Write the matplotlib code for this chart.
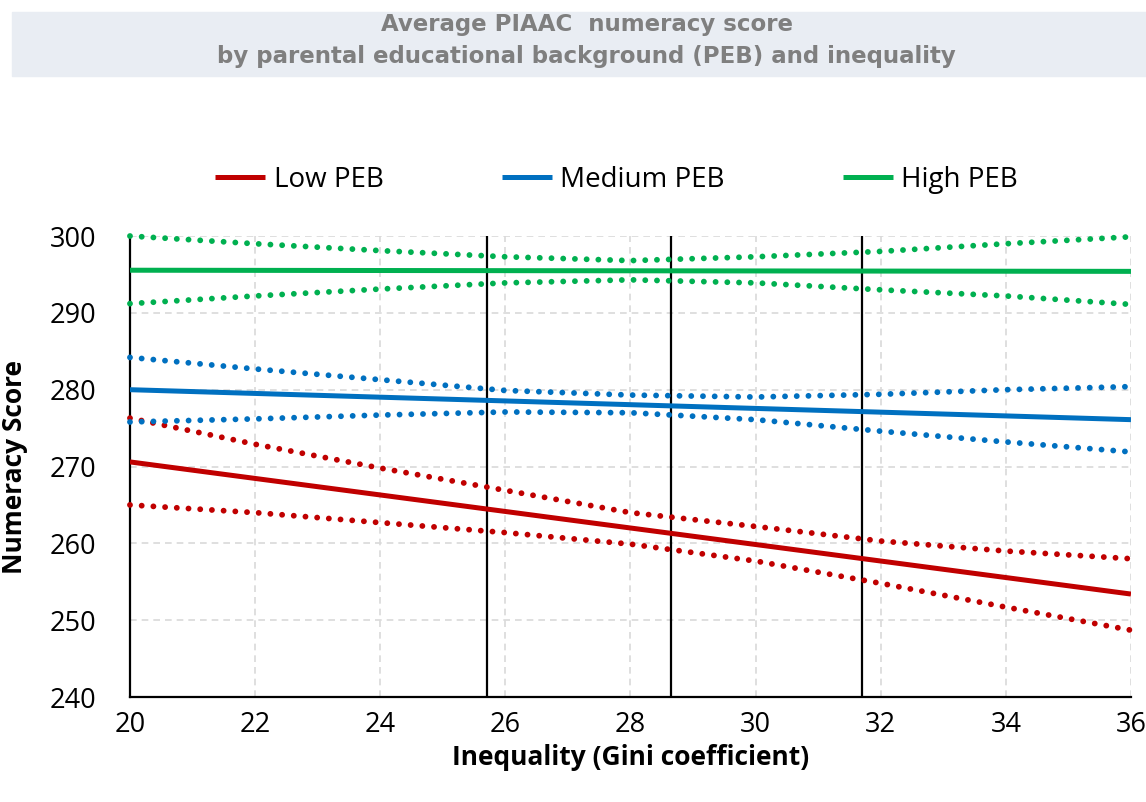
import matplotlib
matplotlib.use("Agg")
import matplotlib.pyplot as plt
from matplotlib.patches import Rectangle

# valori
gini = [20, 22, 24, 26, 28, 30, 32, 34, 36]
gini_ends = [20, 36]

low_fit = [270.6, 253.4]
low_up = [276.3, 272.9, 269.8, 266.9, 264.0, 262.2, 260.3, 259.0, 258.0]
low_lo = [265.0, 264.0, 262.7, 261.4, 259.9, 257.7, 254.8, 251.7, 248.7]

med_fit = [280.0, 276.1]
med_up = [284.2, 282.7, 281.3, 279.9, 279.3, 279.05, 279.4, 280.0, 280.4]
med_lo = [275.8, 276.2, 276.7, 277.1, 277.0, 276.1, 274.6, 273.2, 271.9]

high_fit = [295.55, 295.4]
high_up = [300.0, 299.0, 298.1, 297.3, 296.8, 297.3, 298.0, 299.0, 299.9]
high_lo = [291.2, 292.2, 293.1, 293.9, 294.3, 293.9, 293.0, 292.2, 291.1]

quart = [25.7, 28.65, 31.7]

x_ticks = [20, 22, 24, 26, 28, 30, 32, 34, 36]
y_ticks = [240, 250, 260, 270, 280, 290, 300]

red = '#C00000'
blue = '#0070C0'
green = '#00B050'

plt.rcParams['font.family'] = ['Open Sans', 'DejaVu Sans']

fig = plt.figure(figsize=(11.46, 8.02), dpi=100)
ax = fig.add_axes([0.1134, 0.1309, 0.8735, 0.5748])

# caseta titlului
fig.patches.append(Rectangle((12 / 1146, 1 - 76 / 802), 1, 64 / 802,
                             transform=fig.transFigure, color='#E9EDF3', zorder=0))
fig.text(0.512, 1 - 24 / 802, 'Average PIAAC  numeracy score', ha='center', va='center',
         fontsize=16.5, fontweight='bold', color='#7F7F7F', family='DejaVu Sans')
fig.text(0.512, 1 - 56 / 802, 'by parental educational background (PEB) and inequality',
         ha='center', va='center', fontsize=16.5, fontweight='bold', color='#7F7F7F',
         family='DejaVu Sans')

dot = (0, (0.01, 2.0))

for fit, up, lo, col, lab in [(low_fit, low_up, low_lo, red, 'Low PEB'),
                              (med_fit, med_up, med_lo, blue, 'Medium PEB'),
                              (high_fit, high_up, high_lo, green, 'High PEB')]:
    ax.plot(gini_ends, fit, color=col, lw=3.6, label=lab, zorder=4, solid_capstyle='butt')
    ax.plot(gini, up, color=col, lw=4.2, linestyle=dot, dash_capstyle='round', zorder=3, clip_on=False)
    ax.plot(gini, lo, color=col, lw=4.2, linestyle=dot, dash_capstyle='round', zorder=3, clip_on=False)

for q in quart:
    ax.axvline(q, color='black', lw=1.6, zorder=2)

ax.set_xlim(20, 36)
ax.set_ylim(240, 300)
ax.set_xticks(x_ticks)
ax.set_yticks(y_ticks)
ax.tick_params(length=0, labelsize=19.5)
ax.tick_params(axis='y', pad=24)
ax.tick_params(axis='x', pad=10)
ax.grid(True, color='#D9D9D9', linestyle=(0, (4, 3)), lw=1.2)
ax.set_axisbelow(True)
for s in ['top', 'right']:
    ax.spines[s].set_visible(False)
ax.spines['left'].set_linewidth(1.6)
ax.spines['bottom'].set_linewidth(1.6)

ax.set_xlabel('Inequality (Gini coefficient)', fontsize=19, fontweight='bold', labelpad=4)
ax.set_ylabel('Numeracy Score', fontsize=19, fontweight='bold')
ax.yaxis.set_label_coords(-0.102, 0.5)

fig.legend(loc='center', bbox_to_anchor=(0.538, 1 - 180 / 802), ncol=3, frameon=False,
           fontsize=20, handlelength=1.8, handletextpad=0.3, columnspacing=4.25)

plt.savefig('out.png', dpi=100)
